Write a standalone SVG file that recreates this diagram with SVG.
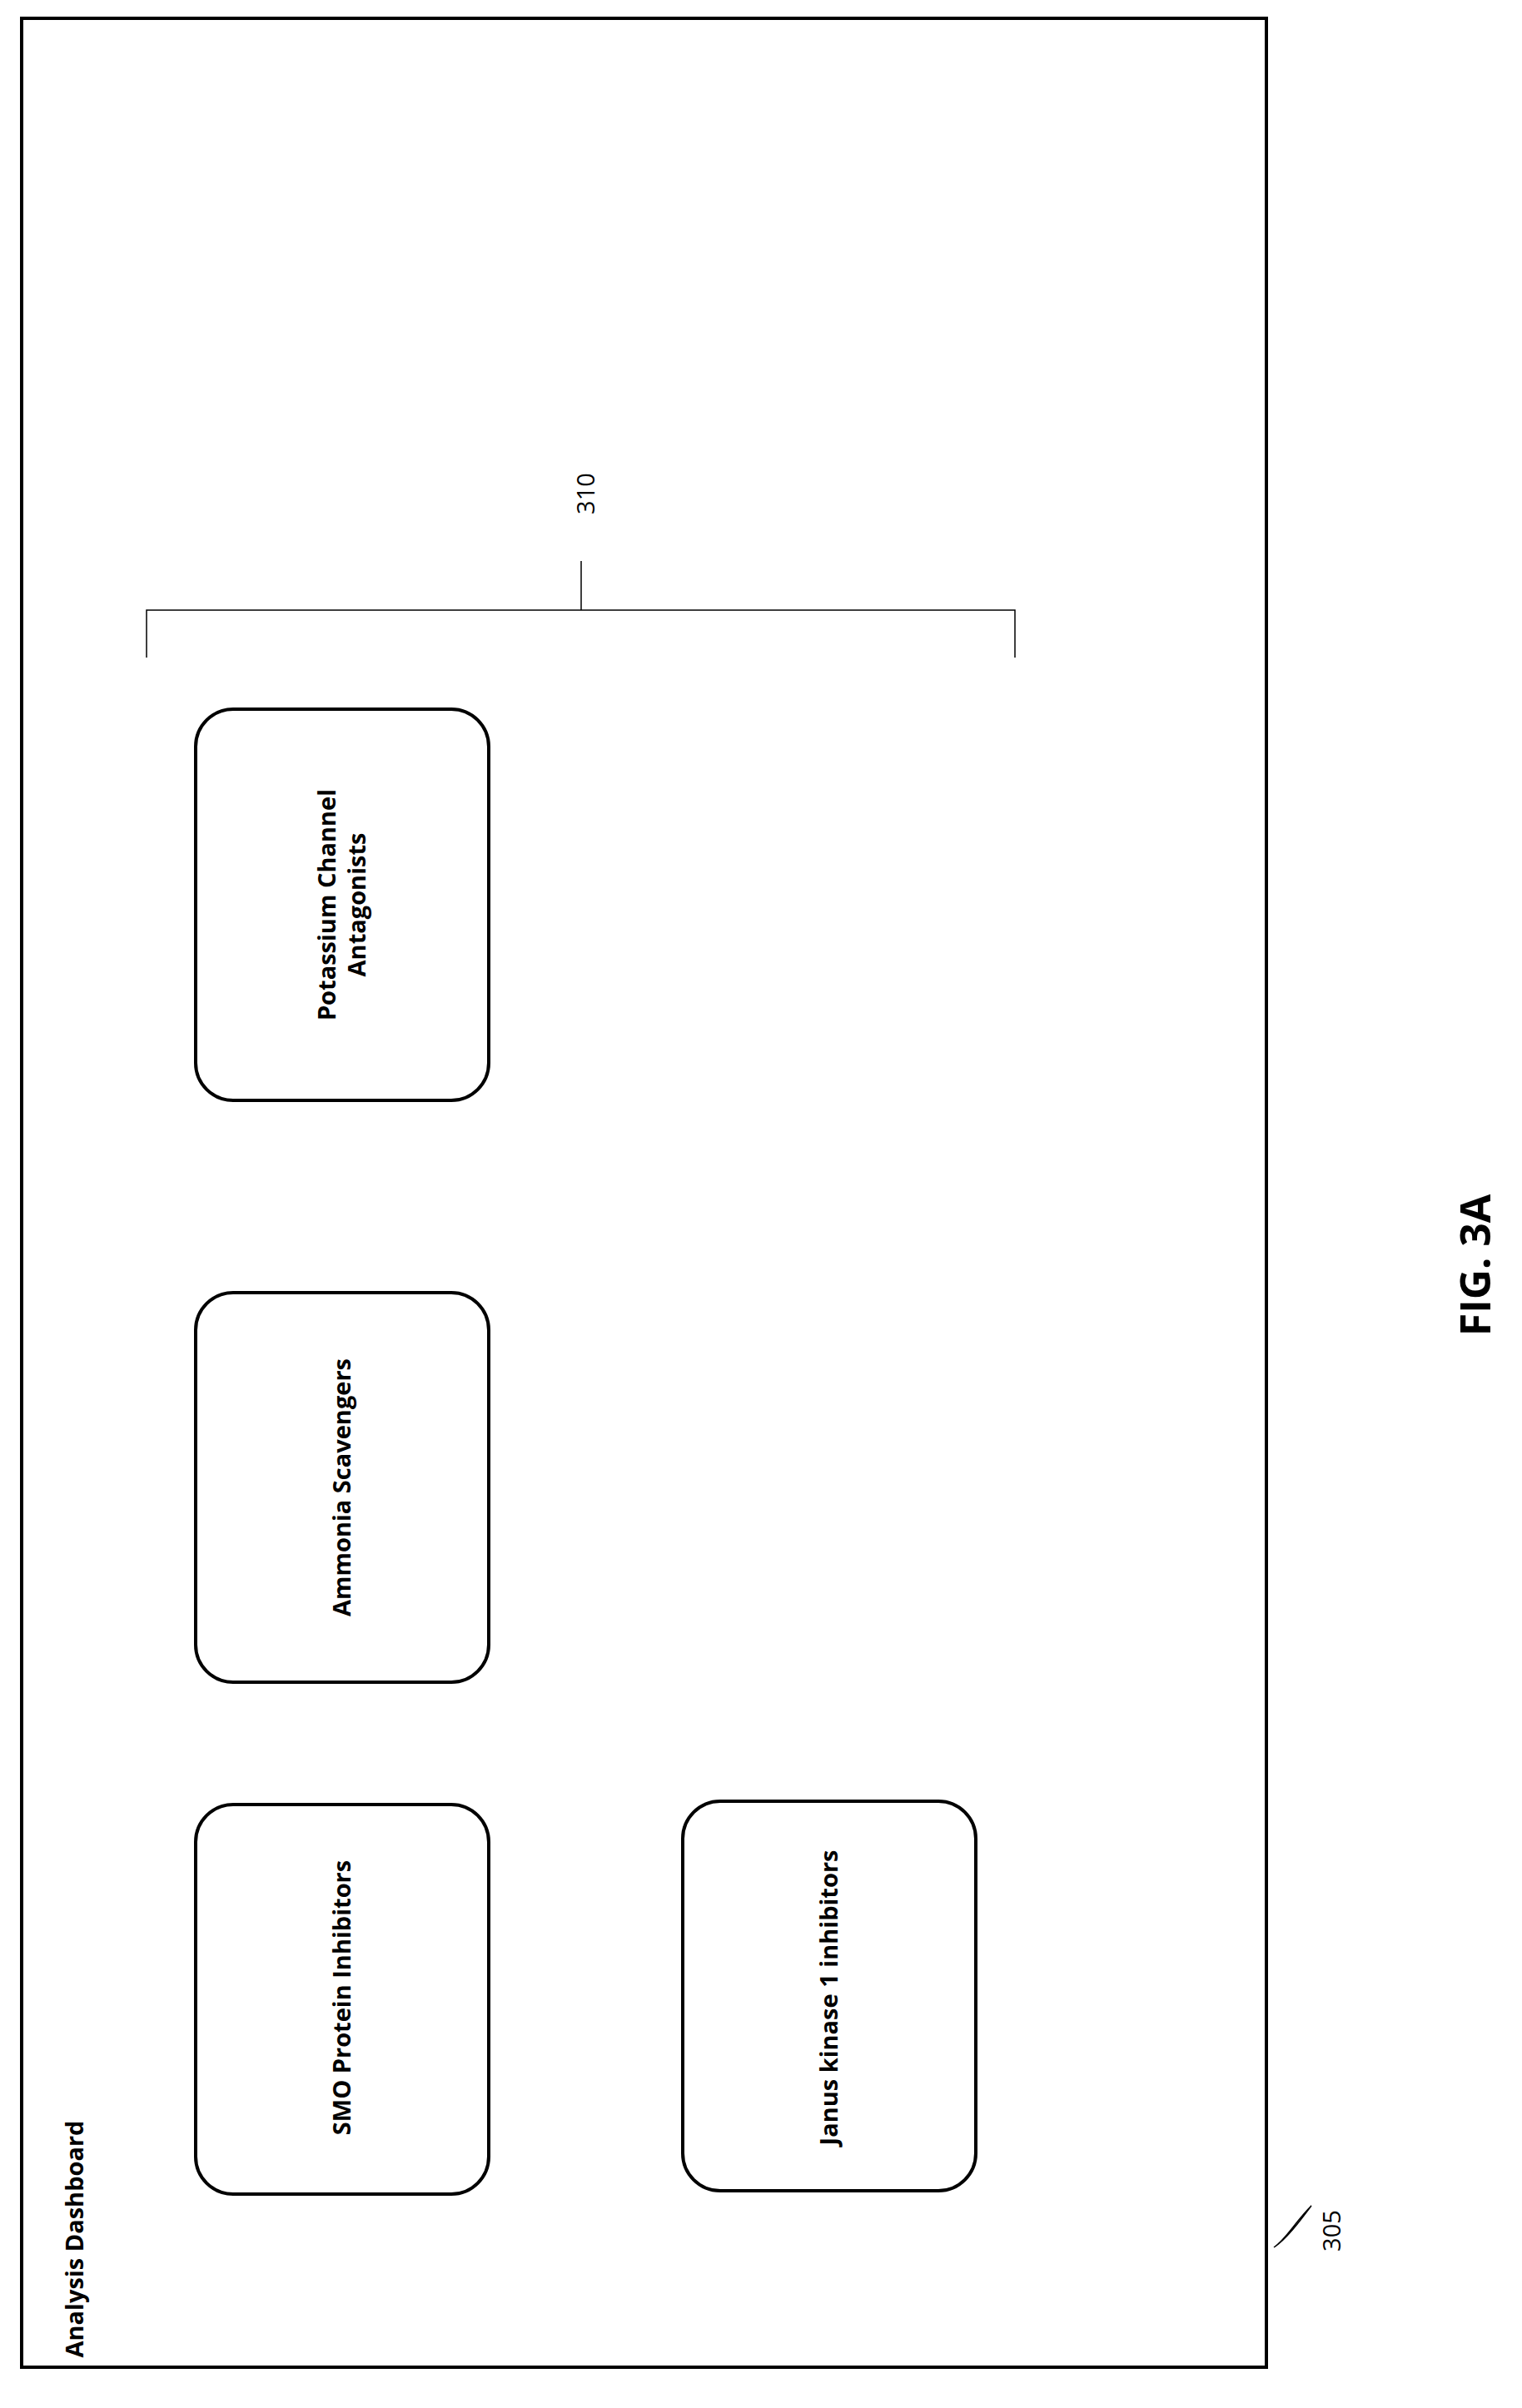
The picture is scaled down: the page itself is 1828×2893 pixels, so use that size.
<svg xmlns="http://www.w3.org/2000/svg" width="1828" height="2893" viewBox="0 0 1828 2893">
<style>
.box{fill:#fff;stroke:#000;stroke-width:4}
.t{font-family:"Open Sans","Liberation Sans",sans-serif;font-weight:bold;font-size:29px;text-anchor:middle}
.n{font-family:"Open Sans","Liberation Sans",sans-serif;font-size:29px;text-anchor:middle}
.ln{fill:none;stroke:#000;stroke-width:1.5}
</style>
<rect x="0" y="0" width="1828" height="2893" fill="#fff"/>
<g id="dashboard">
<rect x="26" y="22" width="1495" height="2822" fill="none" stroke="#000" stroke-width="4"/>
<text class="t" transform="translate(100,2690) rotate(-90)" style="text-anchor:middle">Analysis Dashboard</text>
</g>
<g id="potassium">
<rect class="box" x="235" y="852" width="352" height="470" rx="45"/>
<text class="t" transform="translate(411,1087) rotate(-90)"><tspan x="0" dy="-8">Potassium Channel</tspan><tspan x="0" dy="36">Antagonists</tspan></text>
</g>
<g id="ammonia">
<rect class="box" x="235" y="1553" width="352" height="468" rx="45"/>
<text class="t" transform="translate(421,1787) rotate(-90)">Ammonia Scavengers</text>
</g>
<g id="smo">
<rect class="box" x="235" y="2168" width="352" height="468" rx="45"/>
<text class="t" transform="translate(421,2400) rotate(-90)">SMO Protein Inhibitors</text>
</g>
<g id="janus">
<rect class="box" x="820" y="2164" width="352" height="468" rx="45"/>
<text class="t" transform="translate(1006,2400) rotate(-90)">Janus kinase 1 inhibitors</text>
</g>
<g id="connectors">
<path class="ln" d="M176,790 V733 H1219 V790 M698,733 V674"/>
<path class="ln" d="M1575,2650 C1555,2670 1545,2690 1530,2700 M1575,2650 C1560,2670 1545,2690 1530,2700"/>
</g>
<g id="labels">
<text class="n" transform="translate(714,593) rotate(-90)">310</text>
<text class="n" transform="translate(1610,2680) rotate(-90)">305</text>
<text class="t" style="font-size:50px" transform="translate(1790,1520) rotate(-90)">FIG. 3A</text>
</g>
</svg>
